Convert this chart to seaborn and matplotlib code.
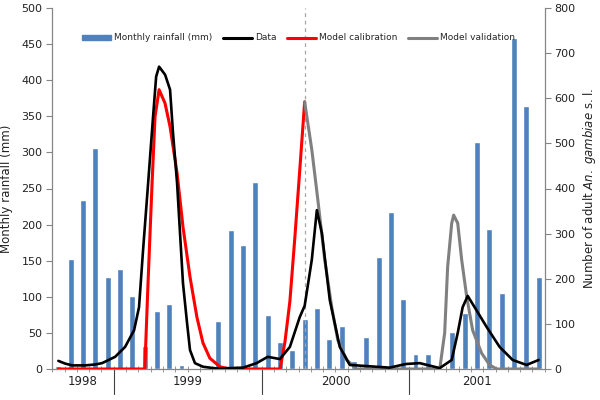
import numpy as np
import seaborn as sns
import matplotlib.pyplot as plt
from matplotlib.patches import Patch
from matplotlib.lines import Line2D

# monthly rainfall bars, one per month (Aug 1998 .. Nov 2001)
months = np.arange(40)
rainfall = [4, 152, 234, 306, 128, 138, 101, 32, 80, 90,
            5, 2, 0, 66, 193, 172, 259, 75, 38, 26,
            69, 84, 42, 59, 11, 45, 155, 217, 97, 21,
            21, 0, 51, 78, 315, 194, 105, 458, 364, 128]

years = ["1998", "1999", "2000", "2001"]
year_months = [5, 12, 12, 11]

# observed adult counts (x in month positions)
data_x = [0, 0.55, 1.12, 2.17, 2.98, 3.55, 4.61, 5.42, 6.15, 6.55, 6.88,
          7.29, 7.69, 7.94, 8.18, 8.67, 9.07, 9.31, 9.64, 9.88, 10.12,
          10.45, 10.69, 11.09, 11.74, 12.88, 15.0, 16.1, 17.0, 17.99, 18.8,
          19.6, 20.0, 20.58, 20.99, 21.4, 22.04, 22.85, 23.66, 26.9, 28.2,
          29.34, 30.97, 31.94, 32.43, 32.83, 33.24, 33.8, 34.78, 35.83,
          36.89, 38.02, 39]
data_y = [18, 12, 8, 8, 10, 13, 27, 49, 86, 137, 264,
          412, 559, 648, 670, 652, 619, 523, 412, 301, 190,
          102, 42, 13, 5, 1, 3, 13, 27, 22, 49,
          115, 140, 242, 352, 301, 153, 49, 9, 3, 11,
          13, 2, 20, 80, 137, 162, 137, 93, 49,
          20, 9, 20]

# model calibration
calib_x = [0, 7.02, 7.28, 7.61, 7.85, 8.18, 8.66, 9.07, 9.64, 10.12, 10.69,
           11.25, 11.74, 12.3, 13.12, 13.9, 18.0, 18.4, 18.8, 19.2, 19.6, 20]
calib_y = [0, 0, 190, 412, 559, 619, 589, 537, 434, 315, 204,
           115, 58, 24, 5, 0, 0, 60, 150, 290, 440, 592]

# model validation
valid_x = [20, 20.58, 21.07, 21.63, 22.2, 22.69, 23.42, 24.24, 30.97, 31.37,
           31.61, 31.94, 32.1, 32.43, 32.75, 33.16, 33.64, 34.37, 35.02,
           35.59, 39]
valid_y = [592, 486, 375, 242, 137, 64, 20, 0, 0, 80,
           226, 323, 341, 323, 242, 160, 86, 35, 9,
           0, 0]

sns.set_style("white")
plt.rcParams["font.family"] = ["DejaVu Sans"]

bar_col = "#4F81BD"
axis_col = "#868686"
txt_col = "#222222"

fig = plt.figure(figsize=(6, 4), dpi=100)
ax = fig.add_axes([0.087, 0.0775, 0.821, 0.9025])
sns.barplot(x=months, y=rainfall, color=bar_col, width=0.48, saturation=1,
            ax=ax)

ax2 = ax.twinx()
ax2.axvline(20, color="#A6A6A6", lw=0.9, ls=(0, (3, 3)), zorder=1)
sns.lineplot(x=data_x, y=data_y, color="black", lw=1.9, ax=ax2, zorder=4)
sns.lineplot(x=calib_x, y=calib_y, color="#FF0000", lw=2.2, ax=ax2, zorder=3)
sns.lineplot(x=valid_x, y=valid_y, color="#808080", lw=2.2, ax=ax2, zorder=3)

ax.set_xlim(-0.5, 39.5)
ax.set_ylim(0, 500)
ax2.set_ylim(0, 800)
ax.set_yticks(range(0, 501, 50))
ax2.set_yticks(range(0, 801, 100))
ax.set_xticks([])
ax.set_xticks(np.arange(-0.5, 40, 1), minor=True)
ax.set_xlabel("")

ax.tick_params(axis="y", left=True, length=4, width=0.8, color=axis_col,
               labelsize=8, labelcolor=txt_col, pad=3)
ax2.tick_params(axis="y", right=True, length=4, width=0.8, color=axis_col,
                labelsize=8, labelcolor=txt_col, pad=3)
ax.tick_params(axis="x", which="minor", bottom=True, direction="inout",
               length=4, width=0.6, color=axis_col)

for s in ["top", "right"]:
    ax.spines[s].set_visible(False)
for s in ["top", "left", "bottom"]:
    ax2.spines[s].set_visible(False)
for sp in [ax.spines["left"], ax.spines["bottom"], ax2.spines["right"]]:
    sp.set_color(axis_col)
    sp.set_linewidth(0.9)

ax.set_ylabel("Monthly rainfall (mm)", fontsize=8.5, color=txt_col, labelpad=6)
ax2.set_ylabel(r"Number of adult $\it{An.\ gambiae}$ s. l.", fontsize=8.5,
               color=txt_col, labelpad=4)

# year groups below the axis
trans = ax.get_xaxis_transform()
start = -0.5
for lab, n in zip(years, year_months):
    end = start + n
    ax.text((start + end) / 2, -0.034, lab, transform=trans, ha="center",
            va="center", fontsize=8.5, color=txt_col)
    if end < 39.5:
        ax.plot([end, end], [0, -0.068], transform=trans, clip_on=False,
                color="#404040", lw=0.8)
    start = end

handles = [Patch(color=bar_col),
           Line2D([], [], color="black", lw=2.2),
           Line2D([], [], color="#FF0000", lw=2.2),
           Line2D([], [], color="#808080", lw=2.2)]
labels = ["Monthly rainfall (mm)", "Data", "Model calibration", "Model validation"]
ax2.legend(handles, labels, loc="center", bbox_to_anchor=(0.5, 0.917), ncol=4,
           frameon=False, fontsize=6.5, handlelength=3.2, handleheight=0.5,
           handletextpad=0.3, columnspacing=1.2)

fig.savefig("out.png", dpi=100)
